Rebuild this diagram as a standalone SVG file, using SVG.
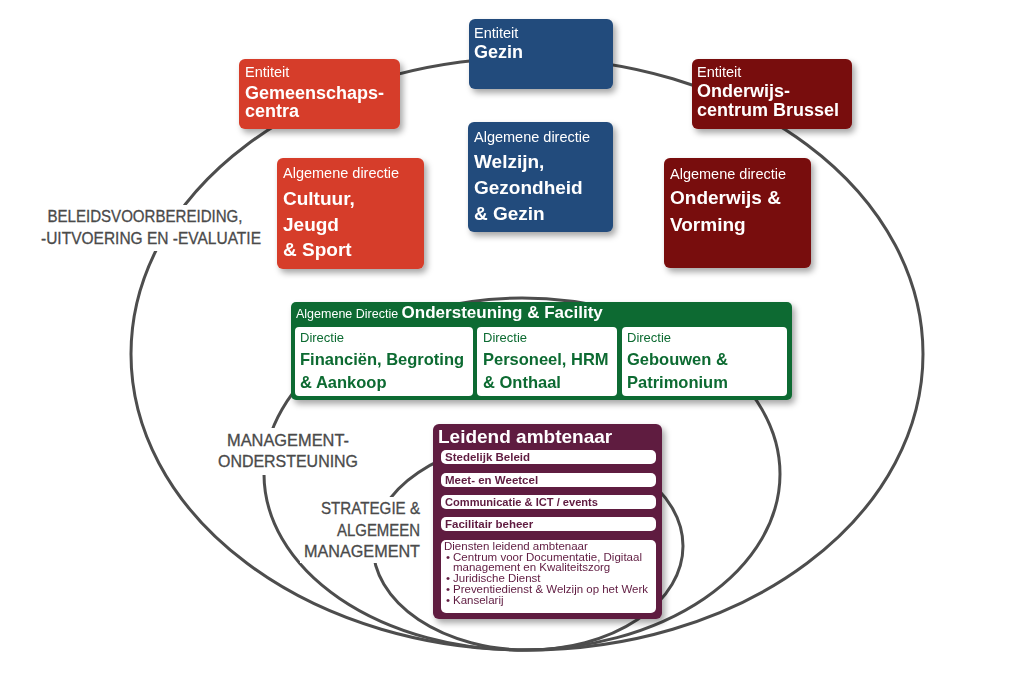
<svg xmlns="http://www.w3.org/2000/svg" width="1023" height="694" viewBox="0 0 1023 694">
<defs>
<filter id="sh" x="-10%" y="-10%" width="130%" height="140%">
<feDropShadow dx="3" dy="4" stdDeviation="3" flood-color="#000" flood-opacity="0.35"/>
</filter>
</defs>
<style>
text{font-family:"Liberation Sans",Arial,sans-serif}
.ring{fill:none;stroke:#4d4d4d;stroke-width:3}
.lbl{font-size:16px;fill:#4a4a4a;stroke:#4a4a4a;stroke-width:0.3}
.hd{font-size:14.5px;fill:#fff}
.tt{font-size:19px;font-weight:bold;fill:#fff}
.et{font-size:18px;font-weight:bold;fill:#fff}
.red{fill:#d63d29}
.blue{fill:#234b7c}
.dred{fill:#780808}
.green{fill:#0c6b31}
.plum{fill:#5f1b40}
.wbox{fill:#fff}
.gd{font-size:13px;fill:#0c6b31}
.gt{font-size:16.5px;font-weight:bold;fill:#0c6b31}
.pt{font-size:11.5px;font-weight:bold;fill:#5f1b40}
.lt{font-size:11.5px;fill:#5f1b40}
</style>
<rect width="1023" height="694" fill="#fff"/>
<g id="rings">
<ellipse class="ring" cx="527" cy="354" rx="396" ry="296"/>
<ellipse class="ring" cx="522" cy="474" rx="258" ry="176"/>
<ellipse class="ring" cx="528" cy="546" rx="155" ry="104"/>
</g>
<g id="labels">
<rect x="38" y="205" width="228" height="46" fill="#fff"/>
<text class="lbl" x="145" y="222" text-anchor="middle" textLength="195" lengthAdjust="spacingAndGlyphs">BELEIDSVOORBEREIDING,</text>
<text class="lbl" x="151" y="244" text-anchor="middle" textLength="220" lengthAdjust="spacingAndGlyphs">-UITVOERING EN -EVALUATIE</text>
<rect x="214" y="428" width="148" height="47" fill="#fff"/>
<text class="lbl" x="288" y="446" text-anchor="middle" textLength="122" lengthAdjust="spacingAndGlyphs">MANAGEMENT-</text>
<text class="lbl" x="288" y="467" text-anchor="middle" textLength="140" lengthAdjust="spacingAndGlyphs">ONDERSTEUNING</text>
<rect x="300" y="497" width="124" height="66" fill="#fff"/>
<text class="lbl" x="420" y="514" text-anchor="end" textLength="99" lengthAdjust="spacingAndGlyphs">STRATEGIE &amp;</text>
<text class="lbl" x="420" y="536" text-anchor="end" textLength="83" lengthAdjust="spacingAndGlyphs">ALGEMEEN</text>
<text class="lbl" x="420" y="557" text-anchor="end" textLength="116" lengthAdjust="spacingAndGlyphs">MANAGEMENT</text>
</g>
<g id="gemeenschapscentra" filter="url(#sh)">
<rect class="red" x="239" y="59" width="161" height="70" rx="6"/>
<text class="hd" x="245" y="77">Entiteit</text>
<text class="et" x="245" y="99">Gemeenschaps-</text>
<text class="et" x="245" y="117">centra</text>
</g>
<g id="gezin" filter="url(#sh)">
<rect class="blue" x="469" y="19" width="144" height="70" rx="6"/>
<text class="hd" x="474" y="38">Entiteit</text>
<text class="et" x="474" y="58">Gezin</text>
</g>
<g id="onderwijscentrum" filter="url(#sh)">
<rect class="dred" x="692" y="59" width="160" height="70" rx="6"/>
<text class="hd" x="697" y="77">Entiteit</text>
<text class="et" x="697" y="97">Onderwijs-</text>
<text class="et" x="697" y="116">centrum Brussel</text>
</g>
<g id="cultuur" filter="url(#sh)">
<rect class="red" x="277" y="158" width="147" height="111" rx="6"/>
<text class="hd" x="283" y="178">Algemene directie</text>
<text class="tt" x="283" y="205">Cultuur,</text>
<text class="tt" x="283" y="231">Jeugd</text>
<text class="tt" x="283" y="256">&amp; Sport</text>
</g>
<g id="welzijn" filter="url(#sh)">
<rect class="blue" x="468" y="122" width="145" height="110" rx="6"/>
<text class="hd" x="474" y="142">Algemene directie</text>
<text class="tt" x="474" y="168">Welzijn,</text>
<text class="tt" x="474" y="194">Gezondheid</text>
<text class="tt" x="474" y="220">&amp; Gezin</text>
</g>
<g id="onderwijs" filter="url(#sh)">
<rect class="dred" x="664" y="158" width="147" height="110" rx="6"/>
<text class="hd" x="670" y="179">Algemene directie</text>
<text class="tt" x="670" y="204">Onderwijs &amp;</text>
<text class="tt" x="670" y="231">Vorming</text>
</g>
<g id="ondersteuning" filter="url(#sh)">
<rect class="green" x="291" y="302" width="501" height="98" rx="5"/>
<text x="296" y="318" font-size="12.5" fill="#fff">Algemene Directie <tspan font-size="17" font-weight="bold">Ondersteuning &amp; Facility</tspan></text>
<rect class="wbox" x="295" y="327" width="178" height="69" rx="4"/>
<rect class="wbox" x="477" y="327" width="140" height="69" rx="4"/>
<rect class="wbox" x="622" y="327" width="165" height="69" rx="4"/>
<text class="gd" x="300" y="342">Directie</text>
<text class="gt" x="300" y="365">Financiën, Begroting</text>
<text class="gt" x="300" y="388">&amp; Aankoop</text>
<text class="gd" x="483" y="342">Directie</text>
<text class="gt" x="483" y="365">Personeel, HRM</text>
<text class="gt" x="483" y="388">&amp; Onthaal</text>
<text class="gd" x="627" y="342">Directie</text>
<text class="gt" x="627" y="365">Gebouwen &amp;</text>
<text class="gt" x="627" y="388">Patrimonium</text>
</g>
<g id="leidend" filter="url(#sh)">
<rect class="plum" x="433" y="424" width="229" height="195" rx="6"/>
<text class="tt" x="438" y="443">Leidend ambtenaar</text>
<rect class="wbox" x="441" y="450" width="215" height="14" rx="5"/>
<rect class="wbox" x="441" y="473" width="215" height="14" rx="5"/>
<rect class="wbox" x="441" y="495" width="215" height="14" rx="5"/>
<rect class="wbox" x="441" y="517" width="215" height="14" rx="5"/>
<rect class="wbox" x="441" y="540" width="215" height="73" rx="5"/>
<text class="pt" x="445" y="461">Stedelijk Beleid</text>
<text class="pt" x="445" y="484">Meet- en Weetcel</text>
<text class="pt" x="445" y="506" textLength="153" lengthAdjust="spacingAndGlyphs">Communicatie &amp; ICT / events</text>
<text class="pt" x="445" y="528">Facilitair beheer</text>
<text class="lt" x="444" y="550">Diensten leidend ambtenaar</text>
<text class="lt" x="446" y="561">•</text>
<text class="lt" x="453" y="561" textLength="189" lengthAdjust="spacingAndGlyphs">Centrum voor Documentatie, Digitaal</text>
<text class="lt" x="453" y="571">management en Kwaliteitszorg</text>
<text class="lt" x="446" y="582">•</text>
<text class="lt" x="453" y="582">Juridische Dienst</text>
<text class="lt" x="446" y="593">•</text>
<text class="lt" x="453" y="593" textLength="195" lengthAdjust="spacingAndGlyphs">Preventiedienst &amp; Welzijn op het Werk</text>
<text class="lt" x="446" y="604">•</text>
<text class="lt" x="453" y="604">Kanselarij</text>
</g>
</svg>
